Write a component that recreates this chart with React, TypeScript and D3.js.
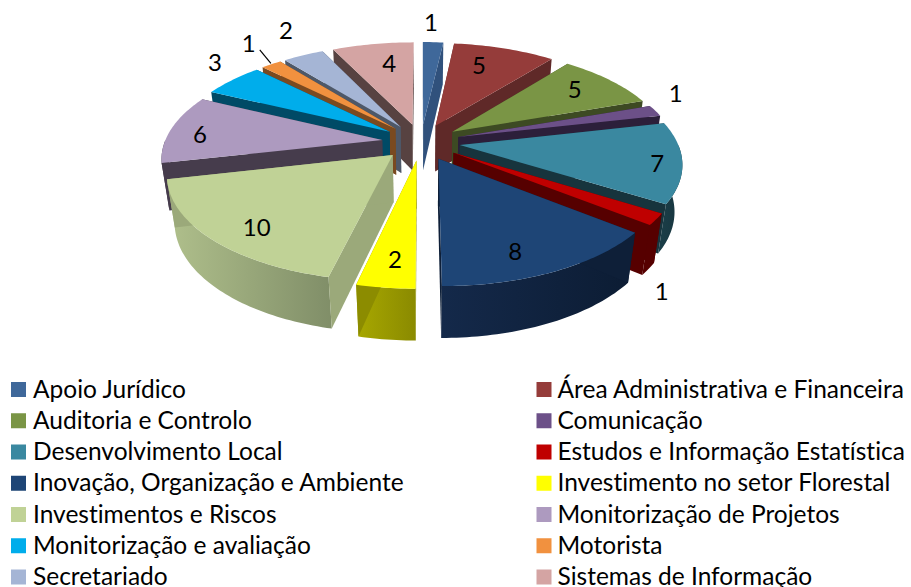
import React from "react";
import * as d3 from "d3";

const categories = [
  "Apoio Jurídico", "Área Administrativa e Financeira", "Auditoria e Controlo", "Comunicação",
  "Desenvolvimento Local", "Estudos e Informação Estatística", "Inovação, Organização e Ambiente",
  "Investimento no setor Florestal", "Investimentos e Riscos", "Monitorização de Projetos",
  "Monitorização e avaliação", "Motorista", "Secretariado", "Sistemas de Informação",
];
const values = [1, 5, 5, 1, 7, 1, 8, 2, 10, 6, 3, 1, 2, 4];
const topColors = ["#3F689A", "#953C3A", "#7A9545", "#6C5088", "#3A88A0", "#BF0000", "#1E4576", "#FFFF00", "#C0D296", "#AD9ABF", "#00ADEB", "#F1913F", "#A5B5D5", "#D4A4A3"];
const wallColors = ["#30517C", "#5F2928", "#3D4A23", "#2C1F3A", "#17343D", "#560000", "#0E1F38", "#8C8C00", "#9BA97A", "#463C4C", "#004A66", "#7A4A20", "#4E5868", "#574241"];
const outerLight = ["#30517C", "#5F2928", "#3D4A23", "#2C1F3A", "#1B3F49", "#560000", "#14294A", "#A8A800", "#B0C08C", "#463C4C", "#004A66", "#7A4A20", "#4E5868", "#574241"];
const outerDark = ["#30517C", "#5F2928", "#3D4A23", "#2C1F3A", "#17343D", "#560000", "#0C1C33", "#8A8A00", "#808E68", "#463C4C", "#004A66", "#7A4A20", "#4E5868", "#574241"];
// label placement in the pie plane: radius factor and angle in degrees
const labelRadius = [1.294, 0.742, 0.772, 1.177, 0.871, 1.309, 0.804, 0.796, 0.804, 0.836, 1.233, 1.32, 1.364, 0.733];
const labelAngle = [2, 18, 52.4, 66, 101.3, 146, 159.3, 185.7, 220.9, 274.8, 311.6, 322.4, 331.7, 350.2];

const W = 911, H = 587;
const FONT = "Lato, 'Open Sans', sans-serif";
const cx = 421, cy = 142, Rx = 217.5, Ry = 100.8, persp = 0.161, depth = 48, explode = 0.18, shrink = 0.03;
const labelRx = 221.5;

type P = [number, number];
const project = (X: number, Y: number, Z = 0, rx = Rx): P => {
  const w = 1 + persp * Y + shrink * Z;
  return [cx + (rx * X) / w, cy + (-Ry * Y + depth * Z) / w];
};
const line = d3.line<P>();
const poly = (pts: P[]) => (line(pts) as string) + "Z";

const arcs = d3.pie<number>().sort(null).startAngle(0).endAngle(2 * Math.PI)(values);

const slices = arcs.map((a) => {
  const i = a.index;
  const mid = (a.startAngle + a.endAngle) / 2;
  const ox = explode * Math.sin(mid), oy = explode * Math.cos(mid);
  const pt = (ang: number, r: number, z = 0, rx = Rx) => project(ox + r * Math.sin(ang), oy + r * Math.cos(ang), z, rx);
  const arcAngles = (s: number, e: number) => {
    const n = Math.max(2, Math.ceil((e - s) / 0.02));
    return d3.range(n + 1).map((k) => s + ((e - s) * k) / n);
  };
  const top = poly([pt(a.startAngle, 0), ...arcAngles(a.startAngle, a.endAngle).map((t) => pt(t, 1))]);
  const radial = (ang: number) => poly([pt(ang, 0), pt(ang, 1), pt(ang, 1, 1), pt(ang, 0, 1)]);
  const frontS = Math.max(a.startAngle, Math.PI / 2), frontE = Math.min(a.endAngle, (3 * Math.PI) / 2);
  let outer: string | null = null;
  if (frontE > frontS) {
    const as = arcAngles(frontS, frontE);
    outer = poly([...as.map((t) => pt(t, 1)), ...as.slice().reverse().map((t) => pt(t, 1, 1))]);
  }
  const la = (labelAngle[i] * Math.PI) / 180;
  const label = pt(la, labelRadius[i], 0, labelRx);
  return { i, mid, value: a.value, top, wallS: radial(a.startAngle), wallE: radial(a.endAngle), outer, label, pt };
});
const drawOrder = slices.slice().sort((p, q) => Math.cos(q.mid) - Math.cos(p.mid));

const legendRow = d3.scaleLinear().domain([0, 6]).range([389.5, 577]);
const legendCol = d3.scaleOrdinal<number, number>().domain([0, 1]).range([11, 536.5]);

const leader = slices[11];
const leaderA = leader.pt(leader.mid + 0.055, 1.2);
const leaderB = leader.pt(leader.mid + 0.005, 1.01);

export default function App() {
  return (
    <svg width={W} height={H} viewBox={`0 0 ${W} ${H}`} style={{ position: "absolute", left: 0, top: 0, background: "#fff" }} fontFamily={FONT}>
      <defs>
        {categories.map((_, i) => (
          <linearGradient key={i} id={`outer${i}`} x1="0" x2="1" y1="0" y2="0">
            <stop offset="0" stopColor={outerLight[i]} />
            <stop offset="1" stopColor={outerDark[i]} />
          </linearGradient>
        ))}
      </defs>
      {drawOrder.map((s) => (
        <g key={s.i}>
          {s.outer && <path d={s.outer} fill={`url(#outer${s.i})`} />}
          <path d={s.wallS} fill={wallColors[s.i]} />
          <path d={s.wallE} fill={wallColors[s.i]} />
          <path d={s.top} fill={topColors[s.i]} />
        </g>
      ))}
      <line x1={leaderA[0]} y1={leaderA[1]} x2={leaderB[0]} y2={leaderB[1]} stroke="#000" strokeWidth={1.2} />
      {slices.map((s) => (
        <text key={s.i} x={s.label[0]} y={s.label[1]} fontSize={24} textAnchor="middle" dominantBaseline="central" fill="#000">
          {s.value}
        </text>
      ))}
      {categories.map((c, i) => {
        const col = i % 2;
        const y = legendRow(Math.floor(i / 2));
        const x = legendCol(col);
        return (
          <g key={c}>
            <rect x={x} y={y - 7.5} width={15} height={15} fill={topColors[i]} />
            <text x={x + 22 - col} y={y + 8.2} fontSize={24.5} fill="#000" style={{ fontVariantLigatures: "none" }}>{c}</text>
          </g>
        );
      })}
    </svg>
  );
}
